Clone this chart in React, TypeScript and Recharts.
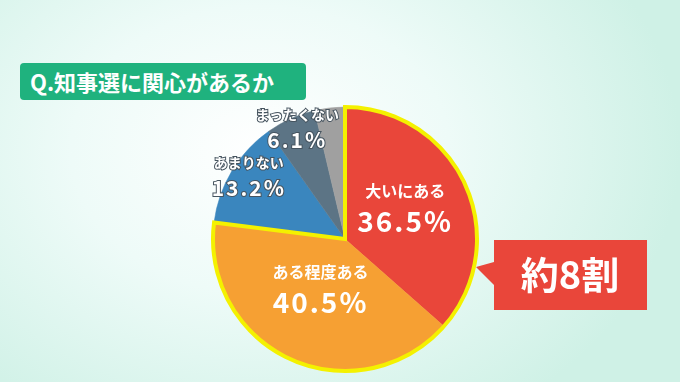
import { Cell, Pie, PieChart } from 'recharts';

const categories = ['大いにある', 'ある程度ある', 'あまりない', 'まったくない', 'その他'];
const values = [36.5, 40.5, 13.2, 6.1, 3.7];
const valueLabels = ['36.5%', '40.5%', '13.2%', '6.1%', ''];
const groupValues = [77.0, 23.0];

const COLORS = ['#E9463A', '#F6A033', '#3A86BE', '#5C7485', '#A0A0A0'];
// label distance from center, as share of radius, per slice
const LABEL_R = [0.5, 0.45, 0.85, 0.88, 0];
const FONT = '"Noto Sans CJK JP", "Noto Sans", sans-serif';

const data = categories.map((name, i) => ({ name, value: values[i], text: valueLabels[i] }));
const groupData = groupValues.map((value, i) => ({ name: i === 0 ? '約8割' : 'rest', value }));

const RAD = Math.PI / 180;

function renderLabel(props: any) {
  const { cx, cy, midAngle, outerRadius, index } = props;
  if (!valueLabels[index]) return null;
  const r = outerRadius * LABEL_R[index];
  const x = cx + r * Math.cos(-midAngle * RAD);
  const y = cy + r * Math.sin(-midAngle * RAD);
  const small = index >= 2;
  const outline = small ? { stroke: '#46545f', strokeWidth: 2, paintOrder: 'stroke' as const } : {};
  return (
    <g>
      <text
        x={x}
        y={y - (small ? 13 : 15)}
        textAnchor="middle"
        fill="#fff"
        fontFamily={FONT}
        fontWeight={700}
        fontSize={small ? 14 : 16}
        {...outline}
      >
        {categories[index]}
      </text>
      <text
        x={x}
        y={y + (small ? 15 : 20)}
        textAnchor="middle"
        fill="#fff"
        fontFamily={FONT}
        fontWeight={700}
        fontSize={small ? 21 : 28}
        letterSpacing={2}
        {...outline}
      >
        {valueLabels[index]}
      </text>
    </g>
  );
}

export default function App() {
  return (
    <div
      style={{
        position: 'fixed',
        left: 0,
        top: 0,
        width: 680,
        height: 382,
        overflow: 'hidden',
        background: 'radial-gradient(ellipse 420px 320px at 260px 150px, #ffffff 0%, #eefbf8 45%, #cff1e6 100%)',
        fontFamily: FONT,
      }}
    >
      <PieChart width={680} height={382} style={{ position: 'absolute', left: 0, top: 0 }}>
        <Pie
          data={data}
          dataKey="value"
          cx={340}
          cy={234}
          outerRadius={132}
          startAngle={90}
          endAngle={-270}
          label={renderLabel}
          labelLine={false}
          isAnimationActive={false}
        >
          {data.map((d, i) => (
            <Cell key={d.name} fill={COLORS[i]} stroke={COLORS[i]} strokeWidth={0.5} />
          ))}
        </Pie>
        <Pie
          data={groupData}
          dataKey="value"
          cx={340}
          cy={234}
          outerRadius={132}
          startAngle={90}
          endAngle={-270}
          isAnimationActive={false}
        >
          <Cell fill="none" stroke="#F4F100" strokeWidth={4} />
          <Cell fill="none" stroke="none" />
        </Pie>
      </PieChart>

      <div
        style={{
          position: 'absolute',
          left: 20,
          top: 63,
          width: 286,
          height: 37,
          background: '#1FB27E',
          borderRadius: 4,
          color: '#fff',
          fontWeight: 700,
          fontSize: 22,
          lineHeight: '37px',
          paddingLeft: 10,
          boxSizing: 'border-box',
          whiteSpace: 'nowrap',
        }}
      >
        Q.知事選に関心があるか
      </div>

      <svg width={200} height={90} style={{ position: 'absolute', left: 470, top: 232 }}>
        <path d="M 24 8 L 177 8 L 177 78 L 24 78 L 24 53 L 6 35 L 24 30 Z" fill="#E9463A" />
        <text
          x={100}
          y={57}
          textAnchor="middle"
          fill="#fff"
          fontFamily={FONT}
          fontWeight={700}
          fontSize={38}
        >
          約8割
        </text>
      </svg>
    </div>
  );
}
